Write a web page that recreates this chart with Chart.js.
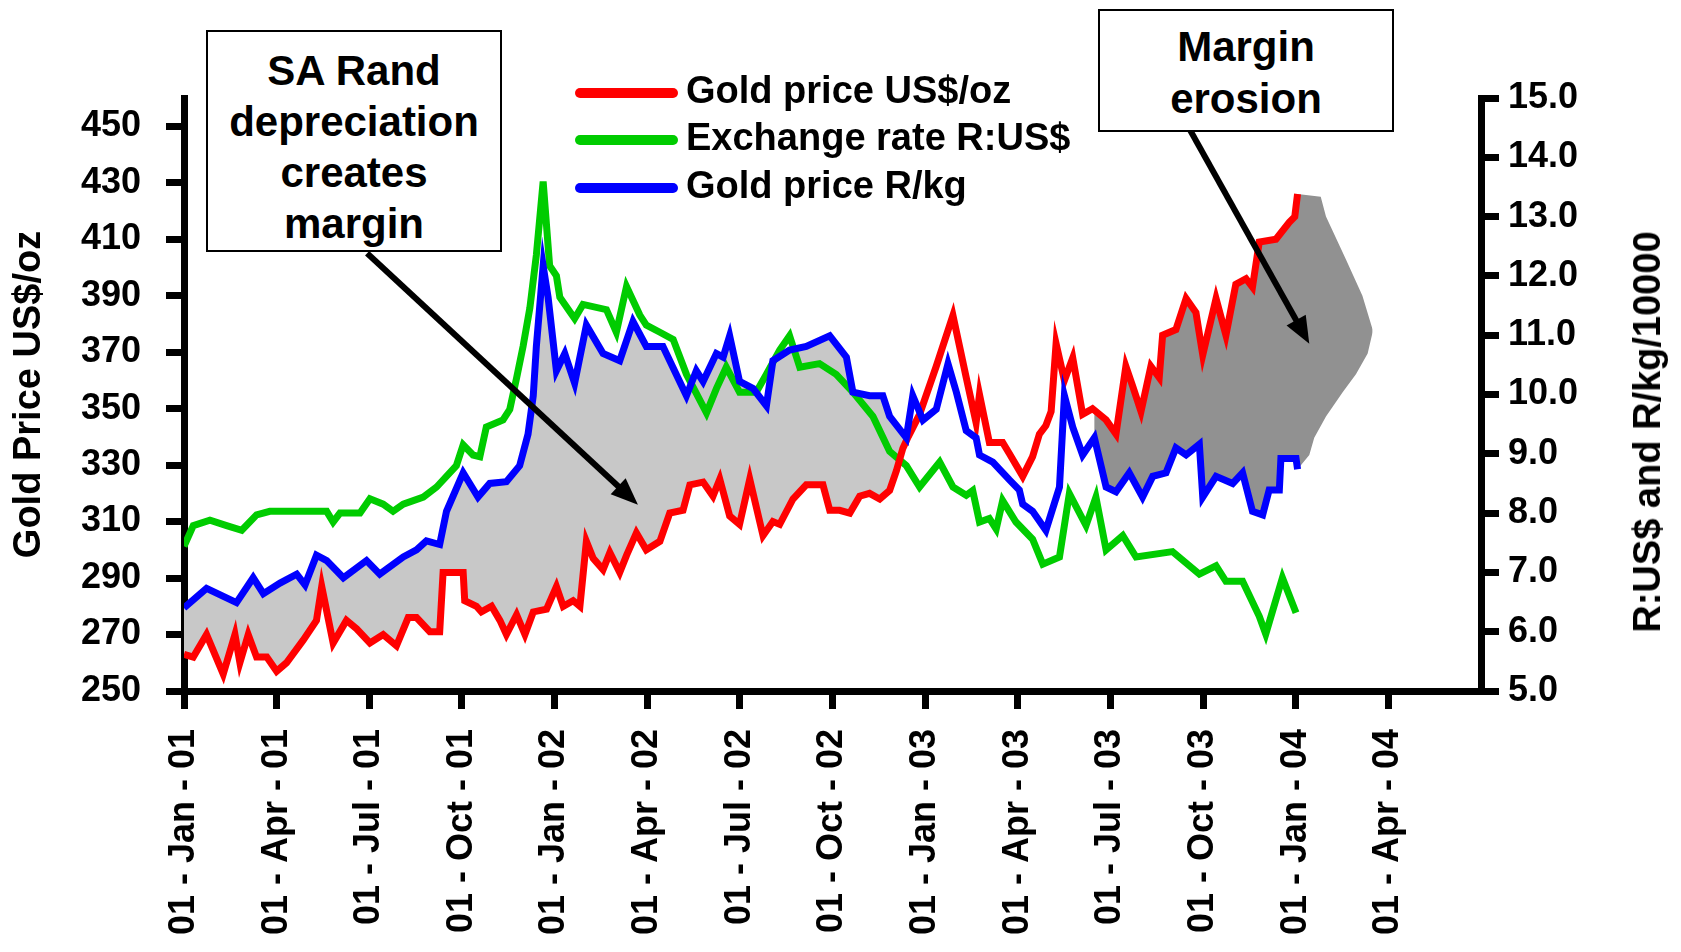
<!DOCTYPE html>
<html>
<head>
<meta charset="utf-8">
<script src="https://cdn.jsdelivr.net/npm/chart.js@4.4.1/dist/chart.umd.min.js"></script>
<style>
  html, body { margin: 0; padding: 0; background: #ffffff; }
  #wrap { position: relative; width: 1681px; height: 952px; overflow: hidden;
          font-family: "Liberation Sans", Arial, sans-serif; color: #000; }
  #chart { position: absolute; left: 0; top: 0; }
  .box { position: absolute; box-sizing: border-box; border: 2px solid #000; background: #fff;
         text-align: center; font-weight: bold; font-size: 42px; line-height: 51px; }
  #legend { position: absolute; left: 575px; top: 69px; }
  .row { display: flex; align-items: center; height: 47.5px; }
  .swatch { width: 103px; height: 10px; border-radius: 5px; margin-right: 8px; }
  .lbl { font-weight: bold; font-size: 38px; line-height: 1; white-space: nowrap; position: relative; top: -3px; }
  #rtitle { position: absolute; left: 1647px; top: 432px; white-space: nowrap;
            font-weight: bold; font-size: 38px; line-height: 1;
            transform: translate(-50%, -50%) rotate(-90deg); }
</style>
</head>
<body>
<div id="wrap">
  <canvas id="chart" width="1681" height="952"></canvas>
  <div class="box" style="left:206px; top:30px; width:296px; height:222px; padding-top:13px;">SA Rand<br>depreciation<br>creates<br>margin</div>
  <div class="box" style="left:1098px; top:9px; width:296px; height:123px; padding-top:10px; line-height:52px;">Margin<br>erosion</div>
  <div id="legend"></div>
  <div id="rtitle">R:US$ and R/kg/10000</div>
</div>
<script>
// ---------- data (x = months since 01-Jan-01) ----------
const tickLabels = ['01 - Jan - 01','01 - Apr - 01','01 - Jul - 01','01 - Oct - 01',
  '01 - Jan - 02','01 - Apr - 02','01 - Jul - 02','01 - Oct - 02',
  '01 - Jan - 03','01 - Apr - 03','01 - Jul - 03','01 - Oct - 03',
  '01 - Jan - 04','01 - Apr - 04'];
const leftTicks = [250,270,290,310,330,350,370,390,410,430,450];
const rightTicks = [5,6,7,8,9,10,11,12,13,14,15];

const seriesNames = ['Gold price US$/oz','Exchange rate R:US$','Gold price R/kg'];
const seriesColors = ['#ff0000','#00cc00','#0000ff'];

const redMonths = [0.00,0.30,0.73,1.27,1.65,1.81,2.08,2.35,2.68,3.00,3.32,3.86,4.29,4.46,4.83,5.26,5.59,6.02,6.45,6.88,
  7.26,7.53,7.96,8.28,8.39,9.04,9.09,9.47,9.63,9.96,10.23,10.44,10.77,11.04,11.31,11.74,12.06,12.28,12.60,12.82,
  13.03,13.25,13.57,13.79,14.11,14.33,14.65,14.97,15.41,15.73,16.16,16.38,16.81,17.13,17.35,17.67,17.99,18.32,18.75,19.07,
  19.29,19.72,20.15,20.69,20.91,21.23,21.56,21.88,22.20,22.53,22.85,23.07,23.28,23.45,23.82,24.36,24.90,25.33,25.65,25.76,
  26.08,26.51,26.73,27.16,27.48,27.70,27.91,28.08,28.24,28.51,28.78,29.10,29.42,29.86,30.18,30.50,30.72,30.99,31.31,31.58,
  31.69,32.12,32.45,32.77,32.99,33.42,33.74,34.06,34.39,34.60,34.82,35.36,35.79,35.97,36.06];
const goldUsd = [263,262,270,256,270,260,270,262,262,257,260,268,275,287,267,275,272,267,270,266,
  276,276,271,271,292,292,282,280,278,280,275,270,277,270,278,279,287,280,282,280,
  303,297,293,299,292,298,306,300,303,313,314,323,324,319,325,312,309,325,305,310,
  309,318,323,323,314,314,313,319,320,318,321,328,336,340,348,365,383,361,345,355,
  338,338,334,326,333,341,344,349,373,360,368,348,350,346,341,365,358,349,365,361,
  376,378,389,384,369,389,376,394,396,393,409,410,416,418,426];

const fxMonths = [0.00,0.30,0.84,1.38,1.87,2.35,2.78,3.86,4.62,4.83,5.05,5.70,6.02,6.45,6.77,7.10,7.75,8.18,8.82,9.04,
  9.36,9.58,9.79,10.33,10.55,10.77,10.98,11.20,11.41,11.63,11.84,12.06,12.17,12.49,12.65,12.92,13.68,14.00,14.33,14.76,
  14.97,15.41,15.84,16.27,16.92,17.24,17.56,17.99,18.53,18.86,19.29,19.61,19.94,20.58,21.12,21.66,22.31,22.85,23.39,23.82,
  24.47,24.90,25.33,25.54,25.76,26.08,26.30,26.51,26.94,27.48,27.81,28.35,28.67,29.21,29.53,29.86,30.40,30.83,32.01,32.88,
  33.42,33.74,34.28,34.82,35.03,35.57,36.01];
const fxRate = [7.44,7.79,7.88,7.79,7.71,7.97,8.03,8.03,8.03,7.85,8.00,8.00,8.24,8.15,8.03,8.15,8.27,8.44,8.80,9.15,
  8.98,8.95,9.45,9.57,9.75,10.28,10.81,11.46,12.35,13.59,12.17,12.00,11.64,11.40,11.28,11.52,11.43,11.05,11.82,11.34,
  11.17,11.05,10.93,10.34,9.69,10.10,10.46,10.04,10.04,10.34,10.75,10.99,10.46,10.52,10.34,10.04,9.63,9.04,8.80,8.44,
  8.86,8.44,8.30,8.38,7.85,7.91,7.73,8.21,7.85,7.56,7.14,7.26,8.33,7.79,8.27,7.38,7.62,7.26,7.35,6.97,
  7.11,6.85,6.85,6.26,5.96,6.91,6.32];

const randMonths = [0.00,0.73,1.70,2.24,2.57,3.11,3.65,3.92,4.29,4.62,5.16,5.91,6.34,7.10,7.53,7.85,8.28,8.50,9.04,9.52,
  9.90,10.44,10.87,11.14,11.31,11.41,11.63,11.79,12.06,12.33,12.65,13.03,13.57,14.11,14.54,14.97,15.51,16.27,16.59,16.81,
  17.24,17.46,17.67,17.99,18.43,18.86,19.07,19.61,20.15,20.91,21.45,21.66,22.20,22.63,22.85,23.39,23.60,23.93,24.36,24.74,
  25.01,25.33,25.65,25.76,26.19,26.73,27.05,27.16,27.48,27.91,28.35,28.51,28.78,29.10,29.48,29.86,30.18,30.61,31.04,31.37,
  31.80,32.12,32.45,32.88,32.99,33.42,33.96,34.28,34.60,34.93,35.14,35.47,35.52,36.01,36.06];
const goldRandKg = [6.40,6.73,6.49,6.91,6.64,6.82,6.97,6.79,7.29,7.20,6.91,7.20,6.97,7.26,7.38,7.53,7.47,8.03,8.68,8.27,
  8.50,8.53,8.80,9.33,9.98,10.81,12.17,11.64,10.40,10.69,10.19,11.17,10.69,10.57,11.23,10.81,10.81,9.98,10.40,10.22,
  10.69,10.63,10.99,10.22,10.10,9.81,10.57,10.75,10.81,10.99,10.63,10.04,9.98,9.98,9.63,9.27,9.98,9.57,9.75,10.52,
  10.04,9.39,9.27,8.98,8.86,8.56,8.39,8.15,8.03,7.71,8.44,9.98,9.45,8.98,9.27,8.44,8.36,8.68,8.27,8.62,
  8.68,9.10,8.98,9.16,8.27,8.62,8.50,8.68,8.03,7.97,8.39,8.39,8.92,8.92,8.74];

// shaded margin zones (month ranges) and the projected "erosion" wedge beyond the data
const marginEnd = 23.45;      // light grey zone: from start up to where US$ price meets R/kg
const erosionStart = 29.42;   // dark grey zone start
const wedgeTopMonths = [36.81,36.98,37.62,38.16,38.49];
const wedgeTopUsd = [425,418,403,390,378];
const wedgeBottomMonths = [36.44,36.60,36.98,37.52,37.95,38.33,38.49];
const wedgeBottomRand = [8.98,9.27,9.63,10.04,10.34,10.69,11.05];

// annotation arrows, in data units of the x axis and left y axis
const arrowNotes = [
  { from: [5.93, 405], to: [14.70, 316] },
  { from: [32.56, 449], to: [36.44, 373] }
];

// ---------- build ----------
const pts = (xs, ys) => xs.map((x, i) => ({ x: x, y: ys[i] }));
const redPts = pts(redMonths, goldUsd);
const randPts = pts(randMonths, goldRandKg);
const lightFill = redPts.filter(p => p.x <= marginEnd);
const darkTop = redPts.filter(p => p.x >= erosionStart).concat(pts(wedgeTopMonths, wedgeTopUsd));
const darkBottom = randPts.filter(p => p.x >= erosionStart).concat(pts(wedgeBottomMonths, wedgeBottomRand));

// legend (HTML)
const legendEl = document.getElementById('legend');
seriesNames.forEach((n, i) => {
  const r = document.createElement('div'); r.className = 'row';
  const s = document.createElement('div'); s.className = 'swatch'; s.style.background = seriesColors[i];
  const l = document.createElement('div'); l.className = 'lbl'; l.textContent = n;
  r.appendChild(s); r.appendChild(l); legendEl.appendChild(r);
});

Chart.defaults.font.family = '"Liberation Sans", Arial, sans-serif';
Chart.defaults.color = '#000';

const axisGrid = { drawOnChartArea: false, drawTicks: true, tickLength: 18, tickWidth: 7,
                   tickColor: '#000', color: '#000', lineWidth: 7 };
const axisBorder = { display: true, color: '#000', width: 7 };
const transparent = 'rgba(0,0,0,0)';

function drawArrow(ctx, x1, y1, x2, y2) {
  const ang = Math.atan2(y2 - y1, x2 - x1);
  const headLen = 27, headHalf = 11;
  const bx = x2 - headLen * Math.cos(ang), by = y2 - headLen * Math.sin(ang);
  ctx.save();
  ctx.strokeStyle = '#000'; ctx.lineWidth = 6; ctx.lineCap = 'butt';
  ctx.beginPath(); ctx.moveTo(x1, y1);
  ctx.lineTo(bx + 3 * Math.cos(ang), by + 3 * Math.sin(ang)); ctx.stroke();
  ctx.fillStyle = '#000';
  ctx.beginPath(); ctx.moveTo(x2, y2);
  ctx.lineTo(bx + headHalf * Math.sin(ang), by - headHalf * Math.cos(ang));
  ctx.lineTo(bx - headHalf * Math.sin(ang), by + headHalf * Math.cos(ang));
  ctx.closePath(); ctx.fill();
  ctx.restore();
}
const arrowPlugin = {
  id: 'arrows',
  afterDatasetsDraw(chart) {
    const { ctx, scales } = chart;
    arrowNotes.forEach(a => {
      drawArrow(ctx,
        scales.x.getPixelForValue(a.from[0]), scales.y.getPixelForValue(a.from[1]),
        scales.x.getPixelForValue(a.to[0]), scales.y.getPixelForValue(a.to[1]));
    });
  }
};

new Chart(document.getElementById('chart'), {
  type: 'line',
  data: {
    datasets: [
      { label: seriesNames[0], data: redPts, yAxisID: 'y', borderColor: seriesColors[0],
        borderWidth: 7, pointRadius: 0, tension: 0, fill: false, order: 1 },
      { label: seriesNames[1], data: pts(fxMonths, fxRate), yAxisID: 'y1', borderColor: seriesColors[1],
        borderWidth: 7, pointRadius: 0, tension: 0, fill: false, order: 2 },
      { label: seriesNames[2], data: randPts, yAxisID: 'y1', borderColor: seriesColors[2],
        borderWidth: 7, pointRadius: 0, tension: 0, fill: false, order: 0 },
      { label: 'margin', data: lightFill, yAxisID: 'y', borderColor: transparent, borderWidth: 1,
        pointRadius: 0, tension: 0, fill: { target: 2 }, backgroundColor: '#c8c8c8', order: 3 },
      { label: 'erosion', data: darkTop, yAxisID: 'y', borderColor: transparent, borderWidth: 1,
        pointRadius: 0, tension: 0, fill: { target: 5 }, backgroundColor: '#919191', order: 4 },
      { label: 'erosion base', data: darkBottom, yAxisID: 'y1', borderColor: transparent, borderWidth: 1,
        pointRadius: 0, tension: 0, fill: false, order: 5 }
    ]
  },
  options: {
    responsive: false, animation: false, devicePixelRatio: 1,
    layout: { padding: { top: 98, left: 0, right: 0, bottom: 0 } },
    plugins: { legend: { display: false }, tooltip: { enabled: false } },
    scales: {
      x: {
        type: 'linear', min: 0, max: 42,
        afterBuildTicks: s => { s.ticks = tickLabels.map((_, i) => ({ value: i * 3 })); },
        afterFit: s => { s.height = 261; },
        ticks: { autoSkip: false, minRotation: 90, maxRotation: 90, padding: 20,
                 font: { size: 36, weight: 'bold' }, color: '#000',
                 callback: v => tickLabels[Math.round(v / 3)] },
        grid: axisGrid, border: axisBorder
      },
      y: {
        position: 'left', min: 250, max: 460,
        afterBuildTicks: s => { s.ticks = leftTicks.map(v => ({ value: v })); },
        afterFit: s => { s.width = 184; },
        ticks: { padding: 25, font: { size: 36, weight: 'bold' }, color: '#000' },
        title: { display: true, text: 'Gold Price US$/oz', color: '#000',
                 font: { size: 38, weight: 'bold' }, padding: { top: 7, bottom: 0 } },
        grid: axisGrid, border: axisBorder
      },
      y1: {
        position: 'right', min: 5, max: 15,
        afterBuildTicks: s => { s.ticks = rightTicks.map(v => ({ value: v })); },
        afterFit: s => { s.width = 200; },
        ticks: { padding: 9, font: { size: 36, weight: 'bold' }, color: '#000',
                 callback: v => Number(v).toFixed(1) },
        grid: axisGrid, border: axisBorder
      }
    }
  },
  plugins: [arrowPlugin]
});
</script>
</body>
</html>
